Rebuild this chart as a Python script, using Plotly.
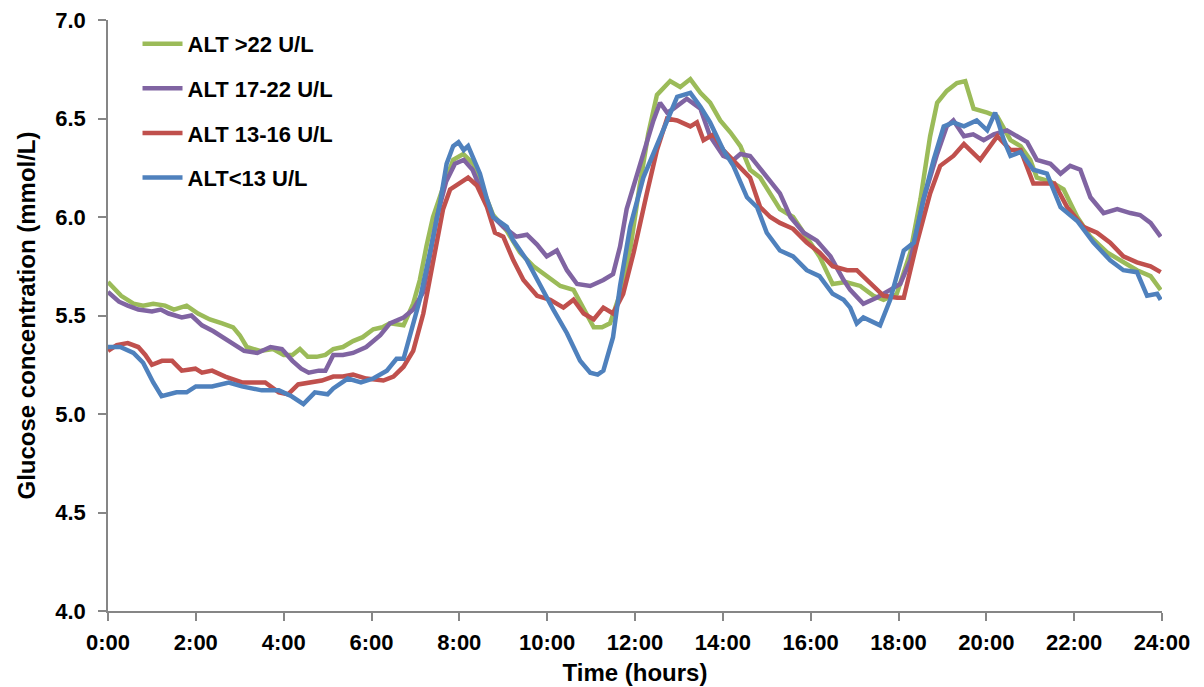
import plotly.graph_objects as go

# ---- data (time in hours, glucose in mmol/L) ----
series_names = ["ALT >22 U/L", "ALT 17-22 U/L", "ALT 13-16 U/L", "ALT<13 U/L"]
series_colors = ["#9BBB59", "#8064A2", "#C0504D", "#4F81BD"]

green_t = [0.0, 0.3, 0.58, 0.8, 1.03, 1.3, 1.5, 1.79, 2.05, 2.32, 2.6, 2.85, 3.0, 3.16, 3.46, 3.76, 4.0, 4.2,
           4.37, 4.55, 4.75, 4.95, 5.13, 5.35, 5.58, 5.8, 6.04, 6.25, 6.42, 6.73, 6.95, 7.1, 7.25, 7.4, 7.63,
           7.86, 8.09, 8.32, 8.54, 8.77, 9.08, 9.38, 9.69, 9.99, 10.3, 10.6, 10.83, 11.06, 11.25, 11.43, 11.66,
           11.9, 12.1, 12.3, 12.5, 12.8, 13.03, 13.26, 13.49, 13.71, 13.94, 14.17, 14.4, 14.62, 14.85, 15.08,
           15.3, 15.6, 15.91, 16.2, 16.5, 16.8, 17.13, 17.43, 17.66, 17.96, 18.27, 18.5, 18.72, 18.88, 19.1,
           19.33, 19.52, 19.71, 20.02, 20.25, 20.55, 20.78, 21.0, 21.15, 21.46, 21.76, 22.07, 22.37, 22.75,
           23.05, 23.43, 23.74, 23.97]
green_v = [5.67, 5.60, 5.56, 5.55, 5.56, 5.55, 5.53, 5.55, 5.51, 5.48, 5.46, 5.44, 5.40, 5.34, 5.32, 5.33, 5.30, 5.30,
           5.33, 5.29, 5.29, 5.30, 5.33, 5.34, 5.37, 5.39, 5.43, 5.44, 5.46, 5.45, 5.56, 5.68, 5.85, 6.00, 6.15,
           6.29, 6.32, 6.27, 6.14, 6.01, 5.93, 5.82, 5.75, 5.70, 5.65, 5.63, 5.53, 5.44, 5.44, 5.46, 5.61,
           5.85, 6.15, 6.42, 6.62, 6.69, 6.66, 6.70, 6.63, 6.58, 6.49, 6.43, 6.36, 6.24, 6.20, 6.12,
           6.04, 6.00, 5.90, 5.80, 5.66, 5.67, 5.65, 5.60, 5.58, 5.61, 5.82, 6.09, 6.41, 6.58, 6.64,
           6.68, 6.69, 6.55, 6.53, 6.51, 6.39, 6.36, 6.29, 6.20, 6.18, 6.14, 6.00, 5.90, 5.82,
           5.78, 5.73, 5.70, 5.63]

purple_t = [0.0, 0.25, 0.45, 0.69, 1.0, 1.2, 1.38, 1.68, 1.9, 2.14, 2.4, 2.6, 2.82, 3.1, 3.4, 3.7, 3.96, 4.2, 4.4,
            4.57, 4.8, 4.95, 5.13, 5.35, 5.58, 5.88, 6.2, 6.42, 6.73, 6.95, 7.18, 7.3, 7.49, 7.7, 7.9, 8.1, 8.3,
            8.54, 8.77, 9.0, 9.3, 9.54, 9.77, 9.99, 10.22, 10.45, 10.68, 10.98, 11.28, 11.5, 11.66, 11.81, 11.97,
            12.12, 12.42, 12.57, 12.73, 12.88, 13.18, 13.49, 13.71, 14.01, 14.24, 14.4, 14.62, 15.0, 15.3, 15.54,
            15.84, 16.14, 16.45, 16.75, 16.9, 17.2, 17.5, 17.81, 18.04, 18.27, 18.57, 18.88, 19.1, 19.25, 19.49,
            19.7, 19.94, 20.17, 20.47, 20.7, 20.93, 21.15, 21.46, 21.69, 21.91, 22.14, 22.37, 22.67, 22.98,
            23.28, 23.5, 23.74, 23.97]
purple_v = [5.62, 5.57, 5.55, 5.53, 5.52, 5.53, 5.51, 5.49, 5.50, 5.45, 5.42, 5.39, 5.36, 5.32, 5.31, 5.34, 5.33, 5.27, 5.23,
            5.21, 5.22, 5.22, 5.30, 5.30, 5.31, 5.34, 5.40, 5.46, 5.49, 5.53, 5.62, 5.77, 6.00, 6.18, 6.27, 6.29, 6.24,
            6.11, 6.00, 5.95, 5.90, 5.91, 5.86, 5.80, 5.83, 5.73, 5.66, 5.65, 5.68, 5.71, 5.85, 6.04, 6.15,
            6.27, 6.49, 6.58, 6.53, 6.55, 6.60, 6.55, 6.41, 6.31, 6.29, 6.32, 6.31, 6.20, 6.12, 6.00,
            5.92, 5.88, 5.80, 5.68, 5.63, 5.56, 5.59, 5.63, 5.66, 5.78, 6.09, 6.32, 6.46, 6.49, 6.41,
            6.42, 6.39, 6.42, 6.44, 6.41, 6.38, 6.29, 6.27, 6.22, 6.26, 6.24, 6.10, 6.02, 6.04,
            6.02, 6.01, 5.97, 5.90]

red_t = [0.0, 0.2, 0.45, 0.69, 0.85, 1.0, 1.23, 1.46, 1.68, 1.99, 2.14, 2.37, 2.67, 3.05, 3.3, 3.58, 3.89, 4.1, 4.33,
         4.56, 4.87, 5.13, 5.35, 5.58, 5.88, 6.27, 6.5, 6.73, 6.95, 7.18, 7.4, 7.63, 7.79, 8.02, 8.2, 8.4, 8.63,
         8.81, 9.0, 9.23, 9.46, 9.77, 10.07, 10.37, 10.6, 10.83, 11.06, 11.28, 11.5, 11.73, 11.97, 12.27, 12.5,
         12.73, 12.96, 13.26, 13.41, 13.56, 13.79, 14.01, 14.32, 14.62, 14.85, 15.08, 15.3, 15.6, 15.91, 16.2,
         16.5, 16.83, 17.05, 17.36, 17.66, 17.97, 18.12, 18.42, 18.72, 18.95, 19.25, 19.49, 19.86, 20.25, 20.55,
         20.78, 21.07, 21.3, 21.55, 21.84, 22.21, 22.52, 22.82, 23.12, 23.43, 23.74, 23.97]
red_v = [5.32, 5.35, 5.36, 5.34, 5.30, 5.25, 5.27, 5.27, 5.22, 5.23, 5.21, 5.22, 5.19, 5.16, 5.16, 5.16, 5.11, 5.10, 5.15,
         5.16, 5.17, 5.19, 5.19, 5.20, 5.18, 5.17, 5.19, 5.24, 5.32, 5.51, 5.78, 6.04, 6.14, 6.17, 6.20, 6.16, 6.05,
         5.92, 5.90, 5.78, 5.68, 5.60, 5.58, 5.54, 5.58, 5.51, 5.48, 5.54, 5.51, 5.61, 5.82, 6.12, 6.34,
         6.50, 6.49, 6.46, 6.48, 6.39, 6.42, 6.34, 6.27, 6.20, 6.05, 6.00, 5.97, 5.94, 5.87, 5.82,
         5.75, 5.73, 5.73, 5.66, 5.60, 5.59, 5.59, 5.87, 6.12, 6.26, 6.31, 6.37, 6.29, 6.41, 6.34,
         6.34, 6.17, 6.17, 6.17, 6.05, 5.95, 5.92, 5.87, 5.80, 5.77, 5.75, 5.72]

blue_t = [0.0, 0.28, 0.58, 0.8, 1.03, 1.22, 1.56, 1.79, 2.0, 2.37, 2.75, 3.05, 3.5, 3.89, 4.18, 4.45, 4.71, 5.0, 5.13,
          5.46, 5.76, 6.04, 6.35, 6.57, 6.73, 6.88, 7.1, 7.33, 7.56, 7.71, 7.86, 7.98, 8.1, 8.2, 8.47, 8.63, 8.77,
          9.08, 9.23, 9.54, 9.84, 10.14, 10.45, 10.75, 10.98, 11.15, 11.28, 11.5, 11.66, 11.89, 12.19, 12.5, 12.73,
          12.96, 13.26, 13.49, 13.71, 14.01, 14.24, 14.55, 14.78, 15.0, 15.3, 15.6, 15.91, 16.2, 16.5, 16.75, 16.9,
          17.05, 17.2, 17.58, 17.81, 18.12, 18.35, 18.57, 18.8, 19.03, 19.25, 19.49, 19.78, 20.02, 20.2, 20.4,
          20.55, 20.78, 21.07, 21.38, 21.69, 22.07, 22.44, 22.82, 23.12, 23.43, 23.66, 23.89, 23.97]
blue_v = [5.34, 5.34, 5.31, 5.26, 5.16, 5.09, 5.11, 5.11, 5.14, 5.14, 5.16, 5.14, 5.12, 5.12, 5.09, 5.05, 5.11, 5.10, 5.13,
          5.18, 5.16, 5.18, 5.22, 5.28, 5.28, 5.41, 5.58, 5.82, 6.07, 6.27, 6.36, 6.38, 6.34, 6.36, 6.22, 6.09, 6.00,
          5.95, 5.88, 5.78, 5.65, 5.53, 5.41, 5.27, 5.21, 5.20, 5.22, 5.39, 5.65, 5.95, 6.20, 6.36, 6.48,
          6.61, 6.63, 6.56, 6.48, 6.34, 6.26, 6.10, 6.05, 5.92, 5.83, 5.80, 5.73, 5.70, 5.61, 5.58, 5.54,
          5.46, 5.49, 5.45, 5.58, 5.83, 5.87, 6.09, 6.29, 6.46, 6.48, 6.46, 6.49, 6.44, 6.53, 6.39,
          6.31, 6.33, 6.24, 6.22, 6.05, 5.98, 5.87, 5.78, 5.73, 5.72, 5.60, 5.61, 5.58]

x_tick_vals = list(range(0, 25, 2))
x_tick_text = ["0:00", "2:00", "4:00", "6:00", "8:00", "10:00", "12:00", "14:00", "16:00",
               "18:00", "20:00", "22:00", "24:00"]
y_tick_vals = [4.0, 4.5, 5.0, 5.5, 6.0, 6.5, 7.0]

all_t = [green_t, purple_t, red_t, blue_t]
all_v = [green_v, purple_v, red_v, blue_v]

FONT = "Liberation Sans, Arial, sans-serif"
AXIS_COLOR = "#868686"

fig = go.Figure()
for i, (name, color, t, v) in enumerate(zip(series_names, series_colors, all_t, all_v)):
    fig.add_trace(go.Scatter(
        x=t, y=v, mode="lines", name=name, legendgroup=f"g{i}",
        line=dict(color=color, width=4.5),
    ))

# page body has an 8px default margin, so the figure is sized to fit inside it
fig.update_layout(
    width=1196, height=679,
    paper_bgcolor="white", plot_bgcolor="white",
    margin=dict(l=100, r=42, t=12, b=76),
    font=dict(family=FONT, color="#000000"),
    showlegend=True,
    legend=dict(
        x=0.028, y=0.995, xanchor="left", yanchor="top",
        bgcolor="rgba(0,0,0,0)",
        font=dict(family=FONT, size=22, color="#000000", weight="bold"),
        tracegroupgap=13, itemwidth=40,
    ),
    xaxis=dict(
        range=[0, 24], tickvals=x_tick_vals, ticktext=x_tick_text,
        showgrid=False, zeroline=False, automargin=False,
        showline=True, linecolor=AXIS_COLOR, linewidth=1.5,
        ticks="outside", ticklen=8, tickcolor=AXIS_COLOR, tickwidth=1.5,
        ticklabelstandoff=3, ticklabeloverflow="allow",
        tickfont=dict(family=FONT, size=22, color="#000000", weight="bold"),
        title=dict(text="Time (hours)", standoff=10,
                   font=dict(family=FONT, size=24, color="#000000", weight="bold")),
    ),
    yaxis=dict(
        range=[4, 7], tickvals=y_tick_vals, tickformat=".1f",
        showgrid=False, zeroline=False, automargin=False,
        showline=True, linecolor=AXIS_COLOR, linewidth=1.5,
        ticks="outside", ticklen=8, tickcolor=AXIS_COLOR, tickwidth=1.5,
        ticklabelstandoff=8, ticklabeloverflow="allow",
        tickfont=dict(family=FONT, size=22, color="#000000", weight="bold"),
        title=dict(text="Glucose concentration (mmol/L)", standoff=13,
                   font=dict(family=FONT, size=24, color="#000000", weight="bold")),
    ),
)

fig.write_html("out.html")
